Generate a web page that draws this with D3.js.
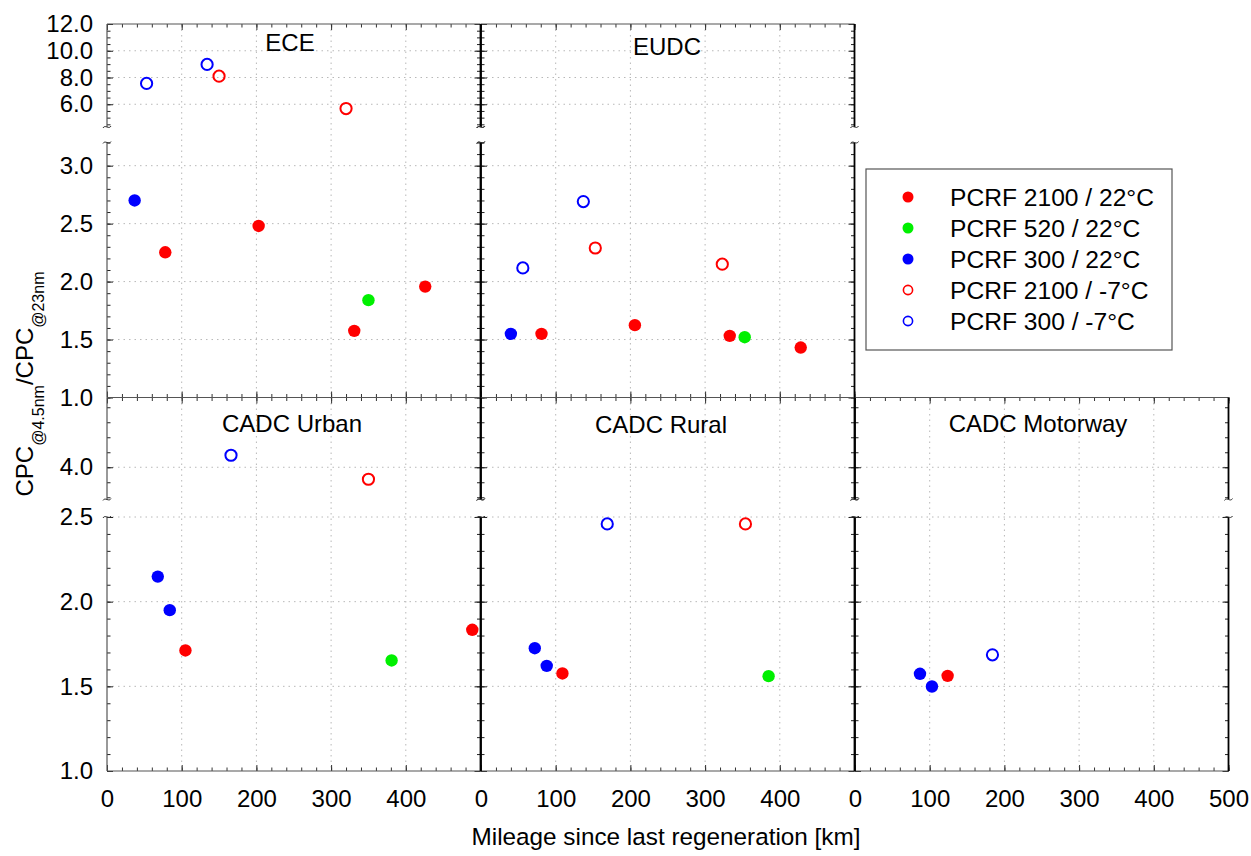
<!DOCTYPE html>
<html lang="en">
<head>
<meta charset="UTF-8" />
<title>CPC ratio vs mileage</title>
<style>
  body { margin: 0; background: #fff; }
  text { font-family: "Liberation Sans", Arial, sans-serif; fill: #000; }
</style>
</head>
<body>
<script src="https://d3js.org/d3.v7.min.js"></script>
<script>
const panelNames = ["ECE", "EUDC", "CADC Urban", "CADC Rural", "CADC Motorway"];
const seriesNames = ["PCRF 2100 / 22°C", "PCRF 520 / 22°C", "PCRF 300 / 22°C", "PCRF 2100 / -7°C", "PCRF 300 / -7°C"];
const seriesColors = ["#ff0000", "#00f000", "#0000ff", "#ff0000", "#0000ff"];
const seriesFilled = [true, true, true, false, false];

// [series, km, ratio]
const ece = [
  [4, 53, 7.56], [4, 134, 8.98], [3, 150, 8.1], [3, 320, 5.68],
  [2, 37, 2.70], [0, 78, 2.253], [0, 203, 2.48], [1, 350, 1.84], [0, 331, 1.575], [0, 426, 1.957]
];
const eudc = [
  [4, 137, 2.69], [3, 153, 2.29], [4, 56, 2.118], [3, 323, 2.15],
  [2, 40, 1.549], [0, 81, 1.549], [0, 206, 1.624], [0, 333, 1.532], [1, 353, 1.52], [0, 428, 1.431]
];
const cadcUrban = [
  [4, 166, 4.08], [3, 350, 3.92],
  [2, 68, 2.148], [2, 84, 1.95], [0, 105, 1.712], [1, 381, 1.653], [0, 489, 1.834]
];
const cadcRural = [
  [4, 169, 2.459], [3, 354, 2.459],
  [2, 72, 1.725], [2, 88, 1.621], [0, 109, 1.576], [1, 385, 1.56]
];
const cadcMotorway = [
  [2, 87, 1.574], [2, 103, 1.499], [0, 124, 1.562], [4, 184, 1.686]
];

const xTicks = [0, 100, 200, 300, 400, 500];
const yTicksTopLower = [1.0, 1.5, 2.0, 2.5, 3.0];
const yTicksTopUpper = [6.0, 8.0, 10.0, 12.0];
const yTicksBottomLower = [1.0, 1.5, 2.0, 2.5];
const yTicksBottomUpper = [4.0];

const width = 1251, height = 856;
const colX = [107, 481, 855];
const panelW = 373.5;

// each row has a broken y axis: a lower and an upper segment
const rows = [
  {
    top: 24, bottom: 397.5, split: 3.5,
    lo: d3.scaleLinear().domain([1, 3.2]).range([397.5, 142.5]),
    hi: d3.scaleLinear().domain([4.3, 12]).range([127, 24]),
    loTicks: yTicksTopLower, hiTicks: yTicksTopUpper, loStep: 0.1, hiStep: 0.5
  },
  {
    top: 397.5, bottom: 771, split: 3.0,
    lo: d3.scaleLinear().domain([1, 2.5]).range([771, 517]),
    hi: d3.scaleLinear().domain([3.785, 4.465]).range([499.5, 397.5]),
    loTicks: yTicksBottomLower, hiTicks: yTicksBottomUpper, loStep: 0.1, hiStep: 0.1
  }
];

const panels = [
  { name: 0, col: 0, row: 0, data: ece, titleDx: 183, titleDy: 27 },
  { name: 1, col: 1, row: 0, data: eudc, titleDx: 186, titleDy: 31 },
  { name: 2, col: 0, row: 1, data: cadcUrban, titleDx: 185, titleDy: 34 },
  { name: 3, col: 1, row: 1, data: cadcRural, titleDx: 180, titleDy: 35 },
  { name: 4, col: 2, row: 1, data: cadcMotorway, titleDx: 183, titleDy: 34 }
];

const svg = d3.select("body").append("svg")
  .attr("width", width)
  .attr("height", height);

function steps(scale, step) {
  const [a, b] = scale.domain();
  const out = [];
  for (let v = Math.ceil(a / step - 1e-6) * step; v <= b + 1e-6; v += step) {
    out.push(+v.toFixed(3));
  }
  return out;
}

function breakMark(g, x, y) {
  g.append("path")
    .attr("d", `M${x - 4},${y + 1} C${x - 2},${y - 3} ${x + 2},${y + 3} ${x + 4},${y - 1}`)
    .attr("fill", "none")
    .attr("stroke", "#333")
    .attr("stroke-width", 1);
}

panels.forEach((p) => {
  const row = rows[p.row];
  const x0 = colX[p.col];
  const x = d3.scaleLinear().domain([0, 500]).range([x0, x0 + panelW]);
  const y = (v) => (v > row.split ? row.hi(v) : row.lo(v));
  const g = svg.append("g");
  const edgeColor = "#555";

  // grid
  const grid = g.append("g")
    .attr("stroke", "#b8b8b8")
    .attr("stroke-width", 1)
    .attr("stroke-dasharray", "1.5,4");
  xTicks.slice(1, -1).forEach((t) => {
    grid.append("line")
      .attr("x1", x(t)).attr("x2", x(t))
      .attr("y1", row.top).attr("y2", row.bottom);
  });
  [[row.lo, row.loTicks], [row.hi, row.hiTicks]].forEach(([s, ticks]) => {
    ticks.forEach((t) => {
      const yy = s(t);
      if (Math.abs(yy - row.top) < 1 || Math.abs(yy - row.bottom) < 1) return;
      grid.append("line")
        .attr("x1", x0).attr("x2", x0 + panelW)
        .attr("y1", yy).attr("y2", yy);
    });
  });

  // x axes (bottom and top edges), ticks inward
  const minorX = d3.range(0, 501, 20);
  const showLabels = p.row === 1;
  const xLabelVals = p.col === 2 ? xTicks : xTicks.slice(0, -1);

  g.append("g")
    .attr("transform", `translate(0,${row.bottom})`)
    .style("color", "#333")
    .call(d3.axisBottom(x).tickValues(minorX).tickSize(-3.5).tickFormat(""));
  g.append("g")
    .attr("transform", `translate(0,${row.bottom})`)
    .style("color", "#333")
    .call(
      d3.axisBottom(x)
        .tickValues(showLabels ? xLabelVals : xTicks)
        .tickSize(-6)
        .tickPadding(19)
        .tickFormat(showLabels ? d3.format("d") : "")
    );
  g.append("g")
    .attr("transform", `translate(0,${row.top})`)
    .style("color", "#333")
    .call(d3.axisTop(x).tickValues(minorX).tickSize(-3.5).tickFormat(""));
  g.append("g")
    .attr("transform", `translate(0,${row.top})`)
    .style("color", "#333")
    .call(d3.axisTop(x).tickValues(xTicks).tickSize(-6).tickFormat(""));

  // y axes (left and right edges), each segment separately
  [[row.lo, row.loTicks, row.loStep], [row.hi, row.hiTicks, row.hiStep]].forEach(([s, ticks, step]) => {
    const minor = steps(s, step);
    [["left", x0], ["right", x0 + panelW]].forEach(([side, xx]) => {
      const axisFn = side === "left" ? d3.axisLeft : d3.axisRight;
      const labelled = side === "left" && p.col === 0;
      g.append("g")
        .attr("transform", `translate(${xx},0)`)
        .style("color", "#222")
        .call(axisFn(s).tickValues(minor).tickSize(-3.5).tickFormat(""));
      g.append("g")
        .attr("transform", `translate(${xx},0)`)
        .style("color", "#222")
        .call(
          axisFn(s)
            .tickValues(ticks)
            .tickSize(-6)
            .tickPadding(14)
            .tickFormat(labelled ? d3.format(".1f") : "")
        );
    });
  });

  g.selectAll(".domain").remove();
  g.selectAll(".tick text")
    .attr("font-size", 24)
    .attr("font-family", '"Liberation Sans", Arial, sans-serif')
    .attr("fill", "#000");

  // frame
  const frame = g.append("g").attr("fill", "none");
  [row.top, row.bottom].forEach((yy) => {
    frame.append("line")
      .attr("x1", x0).attr("x2", x0 + panelW)
      .attr("y1", yy).attr("y2", yy)
      .attr("stroke", edgeColor).attr("stroke-width", 1.2);
  });
  [x0, x0 + panelW].forEach((xx) => {
    const outer = xx === colX[0];
    [row.lo, row.hi].forEach((s) => {
      frame.append("line")
        .attr("x1", xx).attr("x2", xx)
        .attr("y1", s.range()[0]).attr("y2", s.range()[1])
        .attr("stroke", outer ? edgeColor : "#000")
        .attr("stroke-width", outer ? 1.2 : 1.8);
    });
    breakMark(frame, xx, row.lo.range()[1]);
    breakMark(frame, xx, row.hi.range()[0]);
  });

  // title
  g.append("text")
    .attr("x", x0 + p.titleDx)
    .attr("y", row.top + p.titleDy)
    .attr("text-anchor", "middle")
    .attr("font-size", 24)
    .text(panelNames[p.name]);

  // points
  g.append("g").selectAll("circle")
    .data(p.data)
    .join("circle")
    .attr("cx", (d) => x(d[1]))
    .attr("cy", (d) => y(d[2]))
    .attr("r", (d) => (seriesFilled[d[0]] ? 6.2 : 5.6))
    .attr("fill", (d) => (seriesFilled[d[0]] ? seriesColors[d[0]] : "none"))
    .attr("stroke", (d) => seriesColors[d[0]])
    .attr("stroke-width", (d) => (seriesFilled[d[0]] ? 0 : 2));
});

// legend
const legend = svg.append("g");
legend.append("rect")
  .attr("x", 866).attr("y", 169)
  .attr("width", 306).attr("height", 181)
  .attr("fill", "#fff")
  .attr("stroke", "#555")
  .attr("stroke-width", 1.2);
seriesNames.forEach((name, i) => {
  const yy = 197 + i * 31;
  legend.append("circle")
    .attr("cx", 908).attr("cy", yy)
    .attr("r", seriesFilled[i] ? 5.5 : 4.6)
    .attr("fill", seriesFilled[i] ? seriesColors[i] : "none")
    .attr("stroke", seriesColors[i])
    .attr("stroke-width", seriesFilled[i] ? 0 : 1.6);
  legend.append("text")
    .attr("x", 950).attr("y", yy + 8.5)
    .attr("font-size", 24.6)
    .text(name);
});

// axis titles
svg.append("text")
  .attr("x", 666).attr("y", 845)
  .attr("text-anchor", "middle")
  .attr("font-size", 24.3)
  .text("Mileage since last regeneration [km]");

const yTitle = svg.append("text")
  .attr("transform", "translate(33,384) rotate(-90)")
  .attr("text-anchor", "middle")
  .attr("font-size", 24);
yTitle.append("tspan").text("CPC");
yTitle.append("tspan").attr("font-size", 16).attr("dy", 11).text("@4.5nm");
yTitle.append("tspan").attr("dy", -11).text("/CPC");
yTitle.append("tspan").attr("font-size", 16).attr("dy", 11).text("@23nm");
</script>
</body>
</html>
